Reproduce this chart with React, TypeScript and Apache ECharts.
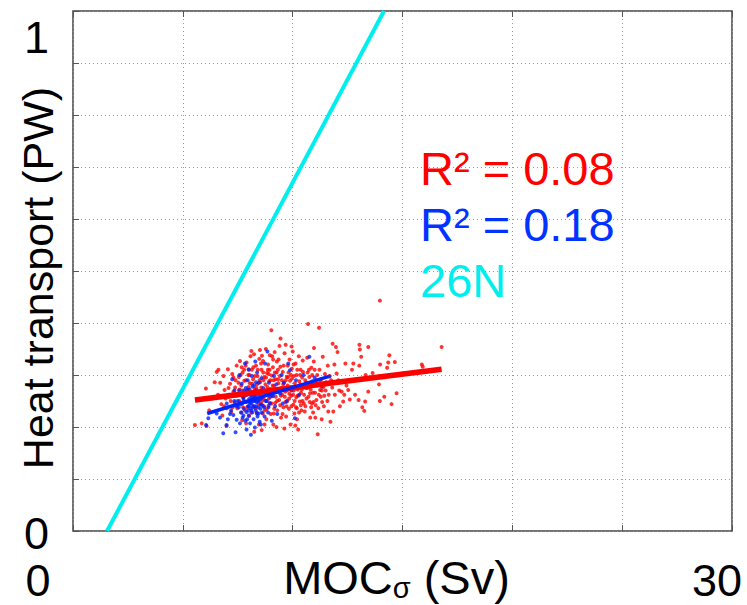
import React, { useEffect, useRef } from "react";
import * as echarts from "echarts";

const redPoints: number[][] = [
  [5.55,0.204],[5.86,0.207],[6.05,0.274],[6.08,0.202],[6.3,0.255],[6.45,0.286],[6.2,0.232],[6.54,0.306],
  [6.6,0.262],[6.7,0.285],[6.75,0.244],[6.85,0.298],[6.9,0.271],[6.99,0.202],[7.05,0.311],[7.1,0.258],[7.15,0.283],[7.2,0.229],[7.25,0.302],[7.3,0.268],[7.35,0.247],[7.4,0.29],[7.45,0.318],[7.48,0.236],[6.62,0.31],[7.0,0.236],[6.8,0.222],[7.38,0.276],
  [7.52,0.262],[7.55,0.296],[7.6,0.327],[7.62,0.244],[7.66,0.28],[7.7,0.213],[7.72,0.305],[7.76,0.257],[7.8,0.289],[7.83,0.232],[7.86,0.318],[7.9,0.324],[7.92,0.27],[7.95,0.249],[7.98,0.3],[8.02,0.221],[8.05,0.284],[8.08,0.336],[8.1,0.262],[8.14,0.31],[8.18,0.241],[8.2,0.292],[8.24,0.34],[8.25,0.191],[8.27,0.273],[8.3,0.252],[8.33,0.318],[8.36,0.228],[8.4,0.298],[8.43,0.266],[8.46,0.205],[8.48,0.331],[8.51,0.348],[7.58,0.272],[7.88,0.207],[8.12,0.346],[7.68,0.315],[8.38,0.282],[8.0,0.311],[7.74,0.238],
  [8.52,0.286],[8.55,0.244],[8.58,0.31],[8.59,0.194],[8.62,0.268],[8.65,0.327],[8.68,0.255],[8.7,0.296],[8.73,0.232],[8.76,0.282],[8.78,0.35],[8.8,0.215],[8.83,0.304],[8.86,0.262],[8.88,0.32],[8.9,0.241],[8.93,0.288],[8.96,0.338],[8.98,0.273],[9.0,0.225],[9.03,0.386],[9.05,0.299],[9.08,0.259],[9.1,0.315],[9.12,0.205],[9.15,0.279],[9.18,0.344],[9.2,0.246],[9.22,0.292],[9.25,0.268],[9.28,0.326],[9.3,0.232],[9.33,0.31],[9.35,0.284],[9.38,0.252],[9.4,0.356],[9.42,0.298],[9.45,0.37],[9.47,0.218],[9.49,0.275],[8.6,0.337],[8.85,0.277],[9.07,0.336],[9.26,0.2],[8.72,0.205],[9.16,0.235],[8.95,0.31],[9.36,0.33],
  [8.57,0.276],[8.67,0.29],[8.81,0.25],[8.91,0.302],[9.02,0.262],[9.13,0.29],[9.23,0.258],[9.31,0.272],[9.43,0.242],[8.64,0.226],[8.97,0.246],[9.19,0.305],
  [9.52,0.262],[9.55,0.306],[9.58,0.238],[9.6,0.285],[9.63,0.342],[9.66,0.268],[9.68,0.358],[9.7,0.22],[9.73,0.296],[9.76,0.251],[9.78,0.318],[9.8,0.275],[9.83,0.235],[9.86,0.33],[9.88,0.289],[9.9,0.205],[9.93,0.26],[9.96,0.312],[9.98,0.276],[10.0,0.345],[10.03,0.243],[10.06,0.298],[10.08,0.226],[10.1,0.284],[10.13,0.322],[10.16,0.257],[10.18,0.3],[10.2,0.215],[10.23,0.272],[10.25,0.195],[10.28,0.336],[10.3,0.288],[10.33,0.249],[10.36,0.31],[10.38,0.266],[10.4,0.232],[10.43,0.295],[10.46,0.328],[10.48,0.278],[9.62,0.197],[9.95,0.355],[10.12,0.203],[9.74,0.27],
  [9.57,0.282],[9.67,0.248],[9.85,0.264],[9.92,0.3],[10.05,0.27],[10.22,0.26],[10.35,0.282],[10.45,0.25],[9.79,0.296],[10.15,0.238],
  [10.52,0.262],[10.55,0.23],[10.58,0.24],[10.62,0.285],[10.66,0.333],[10.7,0.398],[10.72,0.258],[10.8,0.218],[10.76,0.296],[10.82,0.272],[10.85,0.314],[10.88,0.245],[10.9,0.288],[10.93,0.228],[10.96,0.326],[10.97,0.352],[11.02,0.266],[11.03,0.218],[11.08,0.252],[11.1,0.28],[11.14,0.186],[11.17,0.236],[11.2,0.391],[11.22,0.31],[11.25,0.271],[11.32,0.215],[11.3,0.292],[11.34,0.248],[11.37,0.335],[11.4,0.277],[11.44,0.26],[11.47,0.302],
  [10.6,0.275],[10.78,0.248],[10.92,0.266],[11.06,0.29],[11.28,0.258],[10.68,0.305],
  [11.52,0.286],[11.62,0.23],[11.6,0.318],[11.64,0.262],[11.68,0.298],[11.72,0.21],[11.82,0.36],[11.8,0.276],[11.85,0.23],[11.9,0.32],[11.97,0.354],[12.04,0.344],[12.0,0.303],[12.12,0.27],[12.15,0.24],[12.23,0.268],[12.3,0.249],[12.4,0.322],[12.45,0.28],[12.53,0.271],[12.6,0.253],[12.7,0.31],
  [12.76,0.322],[12.84,0.262],[13.0,0.252],[13.03,0.318],[13.04,0.358],[13.06,0.349],[13.12,0.335],[13.17,0.238],[13.26,0.231],[13.3,0.249],[13.32,0.3],[13.44,0.268],[13.44,0.354],[13.64,0.304],[13.93,0.282],[13.97,0.25],[13.97,0.298],[13.98,0.32],[13.97,0.443],
  [14.17,0.258],[14.3,0.314],[14.35,0.324],[14.4,0.338],[14.5,0.244],[14.65,0.325],[14.73,0.265],[15.88,0.32],[15.92,0.316],[16.78,0.354],
  [7.53,0.285],[7.57,0.25],[7.63,0.3],[7.67,0.228],[7.71,0.27],[7.79,0.31],[7.82,0.26],[7.87,0.29],[7.93,0.238],[7.99,0.277],[8.03,0.3],[8.07,0.25],[8.11,0.228],[8.16,0.283],[8.21,0.315],[8.23,0.258],[8.28,0.298],[8.31,0.236],[8.35,0.275],[8.41,0.31],[8.45,0.245],[8.49,0.29],[8.53,0.262],[8.56,0.322],[8.61,0.25],[8.66,0.305],[8.69,0.24],[8.74,0.268],[8.79,0.295],[8.82,0.234],[8.87,0.31],[8.92,0.255],[8.99,0.29],[9.04,0.245],[9.09,0.28],[9.11,0.33],[9.14,0.226],[9.21,0.27],[9.27,0.305],[9.29,0.25],[9.34,0.292],[9.39,0.272],[9.44,0.316],[9.46,0.26],[9.51,0.29],[9.54,0.225],[9.59,0.318],[9.64,0.258],[9.69,0.29],[9.72,0.24],[9.77,0.28],[9.81,0.305],[9.84,0.255],[9.89,0.272],[9.94,0.24],[9.97,0.293],[10.02,0.262],[10.04,0.32],[10.09,0.25],[10.14,0.275],[10.19,0.236],[10.21,0.31],[10.26,0.26],[10.29,0.228],[10.34,0.3],[10.37,0.242],[10.42,0.272],[10.47,0.306],[10.51,0.245],[10.57,0.29],[10.63,0.255],[10.67,0.275],[10.74,0.31],[10.79,0.265],[10.84,0.238],[10.89,0.3],[10.95,0.248],[11.0,0.31],[11.05,0.242],[11.12,0.3],[11.19,0.262],[11.24,0.29],[11.33,0.27],[11.42,0.24],[11.5,0.27],[11.58,0.25],[11.75,0.29],[11.92,0.262],[12.08,0.29],[12.35,0.262],[7.3,0.295],[7.18,0.25],[7.42,0.26],[7.08,0.275],[6.95,0.255],[7.27,0.238],[6.88,0.24]
];

const bluePoints: number[][] = [
  [6.06,0.204],[6.16,0.217],[6.54,0.226],[6.69,0.218],[6.84,0.188],[6.99,0.204],[7.0,0.245],[7.1,0.262],[7.2,0.232],[7.3,0.223],[7.35,0.27],[7.45,0.214],[7.5,0.25],[7.55,0.238],[7.6,0.207],[7.62,0.262],[7.65,0.228],[7.68,0.283],[7.7,0.245],[7.72,0.218],[7.75,0.256],[7.78,0.235],[7.8,0.27],[7.83,0.322],[7.85,0.212],[7.88,0.248],[7.9,0.229],[7.92,0.262],[7.95,0.29],[7.97,0.24],
  [8.0,0.222],[8.02,0.254],[8.04,0.272],[8.06,0.207],[8.08,0.236],[8.1,0.26],[8.12,0.245],[8.14,0.298],[8.16,0.228],[8.18,0.266],[8.2,0.25],[8.22,0.215],[8.24,0.28],[8.26,0.24],[8.28,0.199],[8.3,0.258],[8.32,0.232],[8.34,0.27],[8.36,0.248],[8.38,0.305],[8.4,0.22],[8.42,0.262],[8.44,0.238],[8.46,0.285],[8.48,0.252],[8.5,0.21],[8.52,0.268],[8.55,0.243],[8.58,0.294],[8.6,0.228],[8.63,0.258],[8.66,0.275],[8.7,0.238],[8.74,0.322],[8.77,0.25],[8.8,0.265],[8.85,0.345],[8.88,0.228],[8.92,0.285],[8.96,0.245],
  [9.0,0.27],[9.05,0.212],[9.1,0.26],[9.15,0.298],[9.2,0.24],[9.25,0.282],[9.3,0.225],[9.35,0.268],[9.42,0.265],[9.5,0.3],[9.55,0.245],[9.6,0.285],[9.73,0.249],[9.8,0.322],[9.88,0.309],[9.95,0.27],[10.1,0.217],[10.15,0.29],[10.3,0.262],[10.5,0.3],[10.76,0.335],[11.0,0.295],[11.32,0.278],[11.67,0.297],
  [7.4,0.19],[7.9,0.195],[8.1,0.185],[8.55,0.205],[7.25,0.292],[8.0,0.31],[8.3,0.326],[7.58,0.3],
  [7.77,0.252],[7.98,0.232],[8.15,0.255],[8.35,0.24],[8.45,0.226],[7.87,0.275],[8.25,0.262],[8.05,0.246],
  [7.56,0.27],[7.64,0.245],[7.71,0.26],[7.76,0.222],[7.82,0.248],[7.86,0.262],[7.93,0.215],[7.96,0.272],[8.01,0.24],[8.07,0.265],[8.13,0.232],[8.17,0.278],[8.21,0.238],[8.27,0.25],[8.33,0.286],[8.37,0.226],[8.43,0.25],[8.47,0.268],[8.53,0.235],[8.57,0.255],[8.62,0.242],[8.68,0.265],[8.72,0.22],[8.82,0.25],[8.9,0.238],[7.45,0.24],[7.35,0.25],[7.15,0.225],[7.05,0.215],[8.98,0.258]
];

const redFit: number[][] = [[5.55, 0.252], [16.78, 0.311]];
const blueFit: number[][] = [[6.11, 0.226], [11.62, 0.297]];
const line26N: number[][] = [[1.55, 0], [14.16, 1]];

const xTickLabels: Record<number, string> = { 0: "{a|0}", 30: "{b|30}" };
const yTickLabels: Record<number, string> = { 0: "{a|0}", 1: "{b|1}" };
const legendTexts = ["R² = 0.08", "R² = 0.18", "26N"];
const legendColors = ["#ff0000", "#0033ff", "#00eeee"];

const FONT = "Liberation Sans, Arial, Helvetica, sans-serif";

export default function App() {
  const ref = useRef<HTMLDivElement>(null);
  useEffect(() => {
    document.body.style.margin = "0";
    const chart = echarts.init(ref.current!, null, { renderer: "svg" });
    const gridLine = { show: true, lineStyle: { color: "#999999", type: [1, 3] as any, width: 1 } };
    const tick = { show: true, inside: true, length: 6, lineStyle: { color: "#555", width: 1 } };
    chart.setOption({
      animation: false,
      backgroundColor: "#ffffff",
      textStyle: { fontFamily: FONT },
      grid: {
        left: 73, top: 11, right: 15, bottom: 74, show: true, borderColor: "#444", borderWidth: 1.5,
        backgroundColor: "transparent", containLabel: false, outerBoundsMode: "none",
      },
      xAxis: [
        {
          type: "value", min: 0, max: 30, interval: 5,
          axisLine: { show: false }, axisTick: tick, splitLine: gridLine,
          axisLabel: {
            show: true, margin: 27, color: "#000", fontSize: 45, fontFamily: FONT,
            showMinLabel: true, showMaxLabel: true, hideOverlap: false,
            formatter: (v: number) => xTickLabels[v] || "",
            rich: {
              a: { fontSize: 45, fontFamily: FONT, color: "#000", padding: [0, 70, 0, 0] },
              b: { fontSize: 45, fontFamily: FONT, color: "#000", padding: [0, 30, 0, 0] },
            },
          },
          name: "{m|MOC}{s|σ}{m| (Sv)}",
          nameLocation: "middle", nameGap: 22, nameMoveOverlap: false,
          nameTextStyle: {
            padding: [0, 12, 0, 0],
            rich: {
              m: { fontSize: 47, fontFamily: FONT, color: "#000" },
              s: { fontSize: 29, fontFamily: FONT, color: "#000", verticalAlign: "bottom", padding: [20, 0, 0, 0] },
            },
          },
        },
        {
          type: "value", min: 0, max: 30, interval: 5, position: "top",
          axisLine: { show: false }, axisTick: tick, splitLine: { show: false }, axisLabel: { show: false },
        },
      ],
      yAxis: [
        {
          type: "value", min: 0, max: 1, interval: 0.1,
          axisLine: { show: false }, axisTick: tick, splitLine: gridLine,
          axisLabel: {
            show: true, margin: 24, color: "#000", fontSize: 45, fontFamily: FONT,
            showMinLabel: true, showMaxLabel: true, hideOverlap: false,
            formatter: (v: number) => yTickLabels[Math.round(v * 10) / 10] || "",
            rich: {
              a: { fontSize: 45, fontFamily: FONT, color: "#000", padding: [4, 0, 0, 0] },
              b: { fontSize: 45, fontFamily: FONT, color: "#000", padding: [52, 0, 0, 0] },
            },
          },
          name: "Heat transport (PW)",
          nameLocation: "middle", nameGap: 14, nameRotate: 90, nameMoveOverlap: false,
          nameTextStyle: { fontSize: 43, fontFamily: FONT, color: "#000", padding: [0, 14, 0, 0] },
        },
      ],
      series: [
        { type: "scatter", data: redPoints, symbol: "circle", symbolSize: 4, itemStyle: { color: "#ff0000" }, z: 2 },
        { type: "scatter", data: bluePoints, symbol: "circle", symbolSize: 4, itemStyle: { color: "#0022ff" }, z: 3 },
        { type: "line", data: redFit, symbol: "none", lineStyle: { color: "#ff0000", width: 5.5 }, z: 4 },
        { type: "line", data: blueFit, symbol: "none", lineStyle: { color: "#0022ff", width: 3.5 }, z: 5 },
        { type: "line", data: line26N, symbol: "none", lineStyle: { color: "#00eeee", width: 4 }, z: 6 },
      ],
      graphic: legendTexts.map((t, i) => ({
        type: "text", left: 420, top: 145 + i * 56, z: 100,
        style: { text: t, fill: legendColors[i], fontSize: 47, fontFamily: FONT },
      })),
    });
    return () => chart.dispose();
  }, []);
  return <div ref={ref} style={{ width: 747, height: 605 }} />;
}
